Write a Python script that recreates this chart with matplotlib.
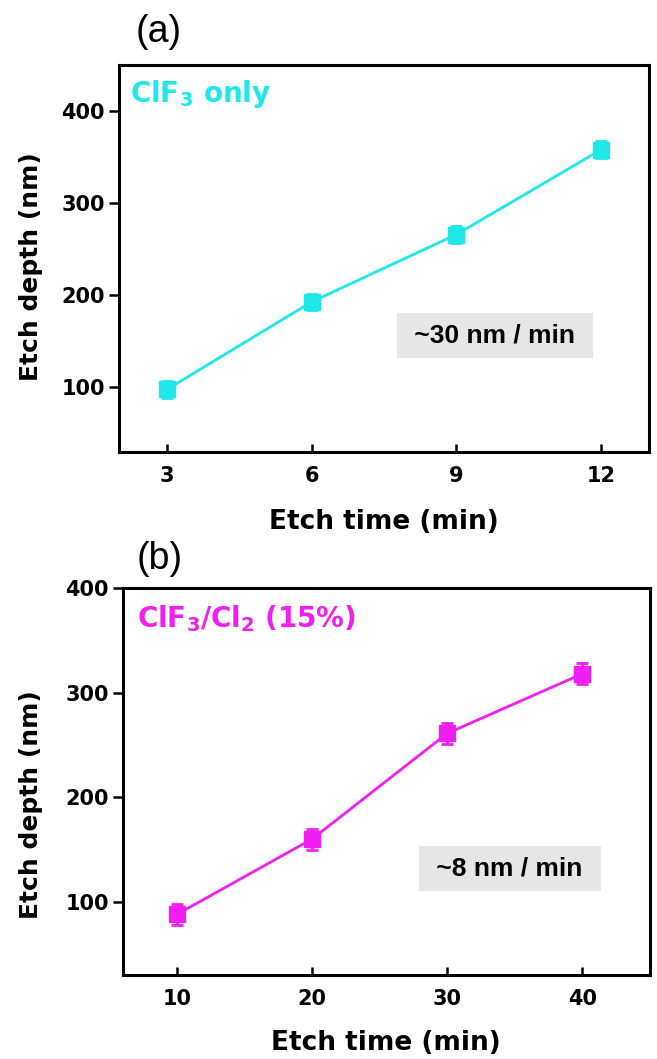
import numpy as np
import matplotlib
matplotlib.use("Agg")
import matplotlib.pyplot as plt

# данные панели (a): только ClF3
time_a = [3, 6, 9, 12]
depth_a = [98, 193, 266, 358]
err_a = [9, 9, 9, 9]

# данные панели (b): ClF3/Cl2 (15%)
time_b = [10, 20, 30, 40]
depth_b = [88, 160, 261, 318]
err_b = [10, 10, 10, 10]

cyan = "#1EE8E8"
magenta = "#F01EF0"

plt.rcParams["font.family"] = ["DejaVu Sans"]
plt.rcParams["font.weight"] = "bold"
plt.rcParams["mathtext.fontset"] = "dejavusans"
plt.rcParams["mathtext.default"] = "bf"

fig = plt.figure(figsize=(6.57, 10.59), dpi=100)
ax_a = fig.add_axes([0.181, 0.5732, 0.807, 0.3654])
ax_b = fig.add_axes([0.187, 0.0793, 0.802, 0.3654])


def setup(ax, x, y, err, color, xlim, ylim, xticks, yticks):
    ax.errorbar(x, y, yerr=err, color=color, lw=2, marker="s", ms=11,
                capsize=4.5, capthick=2, elinewidth=2)
    ax.set_xlim(*xlim)
    ax.set_ylim(*ylim)
    ax.set_xticks(xticks)
    ax.set_yticks(yticks)
    for s in ax.spines.values():
        s.set_linewidth(2.2)
    ax.tick_params(axis="x", direction="in", length=6, width=1.8, pad=10,
                   labelsize=15, top=False)
    ax.tick_params(axis="y", direction="out", length=7, width=1.8, pad=3,
                   labelsize=15, right=False)
    for lab in ax.get_xticklabels() + ax.get_yticklabels():
        lab.set_fontweight("bold")
    ax.set_xlabel("Etch time (min)", fontsize=19, fontweight="bold")
    ax.set_ylabel("Etch depth (nm)", fontsize=18, fontweight="bold")


setup(ax_a, time_a, depth_a, err_a, cyan, (2, 13), (30, 450),
      [3, 6, 9, 12], [100, 200, 300, 400])
setup(ax_b, time_b, depth_b, err_b, magenta, (6, 45), (30, 400),
      [10, 20, 30, 40], [100, 200, 300, 400])
ax_a.xaxis.set_label_coords(0.5, -0.148)
ax_b.xaxis.set_label_coords(0.5, -0.142)
ax_a.yaxis.set_label_coords(-0.143, 0.48)
ax_b.yaxis.set_label_coords(-0.152, 0.44)

# подписи газов
ax_a.text(0.021, 0.904, r"ClF$_3$ only", transform=ax_a.transAxes,
          color=cyan, fontsize=20, fontweight="bold", va="baseline")
ax_b.text(0.027, 0.899, r"ClF$_3$/Cl$_2$ (15%)", transform=ax_b.transAxes,
          color=magenta, fontsize=20, fontweight="bold", va="baseline")

# скорость травления в сером прямоугольнике
box = dict(boxstyle="square,pad=0.4", fc="#e6e6e6", ec="none")
ax_a.text(0.709, 0.30, " ~30 nm / min ", transform=ax_a.transAxes,
          ha="center", va="center", fontsize=19, fontweight="bold",
          family="Liberation Sans", bbox=box)
ax_b.text(0.734, 0.276, " ~8 nm / min ", transform=ax_b.transAxes,
          ha="center", va="center", fontsize=19, fontweight="bold",
          family="Liberation Sans", bbox=box)

# метки панелей
fig.text(159 / 657, 1 - 32 / 1059, "(a)", ha="center", va="center",
         fontsize=27, fontweight="normal", family="Liberation Sans")
fig.text(160 / 657, 1 - 559 / 1059, "(b)", ha="center", va="center",
         fontsize=27, fontweight="normal", family="Liberation Sans")

fig.savefig("out.png", dpi=100)
